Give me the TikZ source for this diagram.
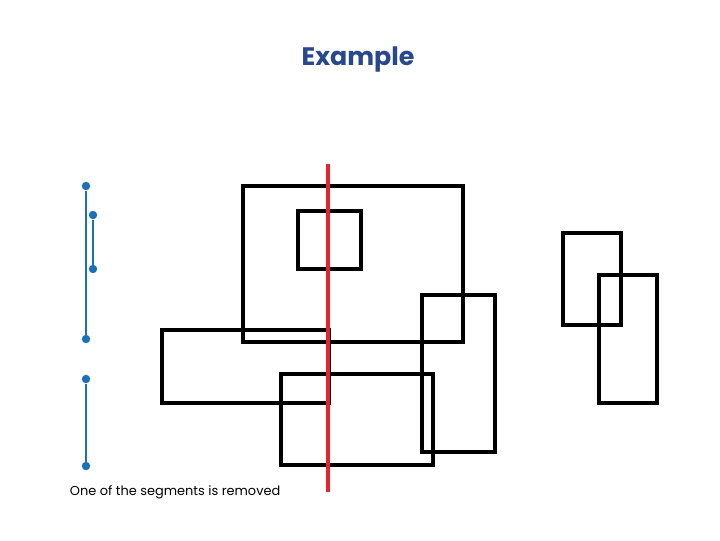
\documentclass[tikz,border=0pt]{standalone}
\usepackage{fontspec}
\setmainfont{Poppins}
\definecolor{exTitleColor}{RGB}{40,72,140}
\definecolor{exSegColor}{RGB}{28,112,182}
\definecolor{exCutColor}{RGB}{226,38,44}
\begin{document}
\begin{tikzpicture}[x=0.025cm,y=-0.025cm]
            \tikzset{box/.style={draw=black, line width=2.3pt},
                     seg/.style={draw=exSegColor, line width=2pt},
                     dot/.style={circle, fill=exSegColor, inner sep=0pt, minimum size=6pt},
                     cut/.style={draw=exCutColor, line width=2.3pt}}

            \useasboundingbox (0,0) rectangle (720,540);

            \node[font=\bfseries\fontsize{18}{21}\selectfont, text=exTitleColor] (title) at (358,59) {Example};

            % segments on the left
            \node[dot] (segAtop) at (86,186) {};
            \node[dot] (segAbot) at (86,339) {};
            \node[dot] (segBtop) at (93,215) {};
            \node[dot] (segBbot) at (93,269) {};
            \node[dot] (segCtop) at (86,379) {};
            \node[dot] (segCbot) at (86,466) {};
            \draw[seg] (segAtop) -- (segAbot);
            \draw[seg] (segBtop) -- (segBbot);
            \draw[seg] (segCtop) -- (segCbot);

            \node[anchor=west, font=\fontsize{9.2}{11}\selectfont] (caption) at (65,492) {One of the segments is removed};

            % rectangles
            \draw[box] (243,186) rectangle (463,342);
            \draw[box] (298,211) rectangle (361,269);
            \draw[box] (162,330) rectangle (329,403);
            \draw[box] (281,374) rectangle (433,465);
            \draw[box] (422,295) rectangle (495,452);
            \draw[box] (563,233) rectangle (621,325);
            \draw[box] (599,275) rectangle (657,403);

            % sweep line
            \coordinate (cutTop) at (328,164);
            \coordinate (cutBot) at (328,492);
            \draw[cut] (cutTop) -- (cutBot);
        \end{tikzpicture}
\end{document}
